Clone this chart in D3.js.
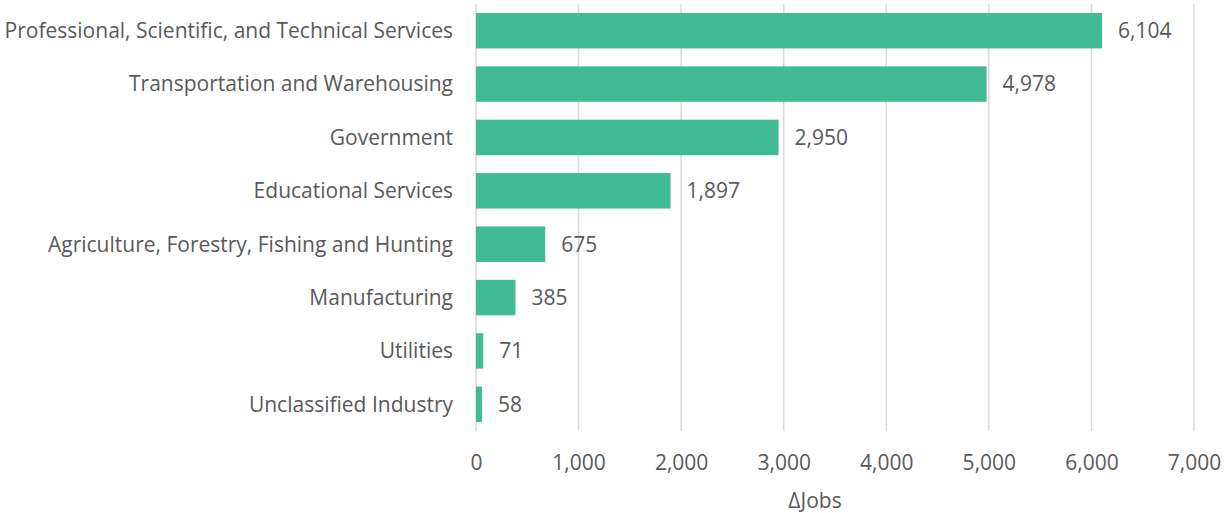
<!DOCTYPE html>
<html><head><meta charset="utf-8">
<script src="https://cdn.jsdelivr.net/npm/d3@7"></script>
<style>body{margin:0;background:#fff}svg{display:block}text{font-family:"Open Sans", sans-serif;fill:#595959}</style>
</head><body>
<svg id="c" width="1231" height="513"></svg>
<script>
const categories = ["Professional, Scientific, and Technical Services","Transportation and Warehousing","Government","Educational Services","Agriculture, Forestry, Fishing and Hunting","Manufacturing","Utilities","Unclassified Industry"];
const values = [6104,4978,2950,1897,675,385,71,58];
const xTicks = [0,1000,2000,3000,4000,5000,6000,7000];
const axisTitle = "\u0394Jobs";

const svg = d3.select("#c");
const m = {l:476, r:1194, t:4, b:431};
const x = d3.scaleLinear().domain([0,7000]).range([m.l,m.r]);
const y = d3.scaleBand().domain(categories).range([m.t,m.b]).paddingInner(0.335).paddingOuter(0.1675);
const fmt = d3.format(",");
const FS = 21;

const grid = svg.append("g");
grid.selectAll("line").data(xTicks).join("line")
  .attr("x1",d=>x(d)).attr("x2",d=>x(d)).attr("y1",m.t).attr("y2",m.b)
  .attr("stroke","#d9d9d9").attr("stroke-width",1.5);

svg.append("g").selectAll("rect").data(values).join("rect")
  .attr("x",x(0)).attr("y",(d,i)=>y(categories[i]))
  .attr("width",d=>x(d)-x(0)).attr("height",y.bandwidth())
  .attr("fill","#43BA96");

svg.append("g").selectAll("text").data(values).join("text")
  .attr("x",d=>x(d)+16).attr("y",(d,i)=>y(categories[i])+y.bandwidth()/2)
  .attr("dy","0.35em").attr("font-size",FS).text(d=>fmt(d));

svg.append("g").selectAll("text").data(categories).join("text")
  .attr("x",453).attr("y",d=>y(d)+y.bandwidth()/2).attr("dy","0.35em")
  .attr("text-anchor","end").attr("font-size",FS).text(d=>d);

const ax = d3.axisBottom(x).tickValues(xTicks).tickFormat(fmt).tickSize(0).tickPadding(0);
const g = svg.append("g").attr("transform",`translate(0,${m.b})`).call(ax);
g.select(".domain").remove();
g.selectAll("text").attr("font-size",FS).attr("dy","0").attr("y",39).style("font-family","'Open Sans', sans-serif").attr("fill","#595959");

svg.append("text").attr("x",815).attr("y",508).attr("text-anchor","middle").attr("font-size",FS).text(axisTitle);
</script>
</body></html>
